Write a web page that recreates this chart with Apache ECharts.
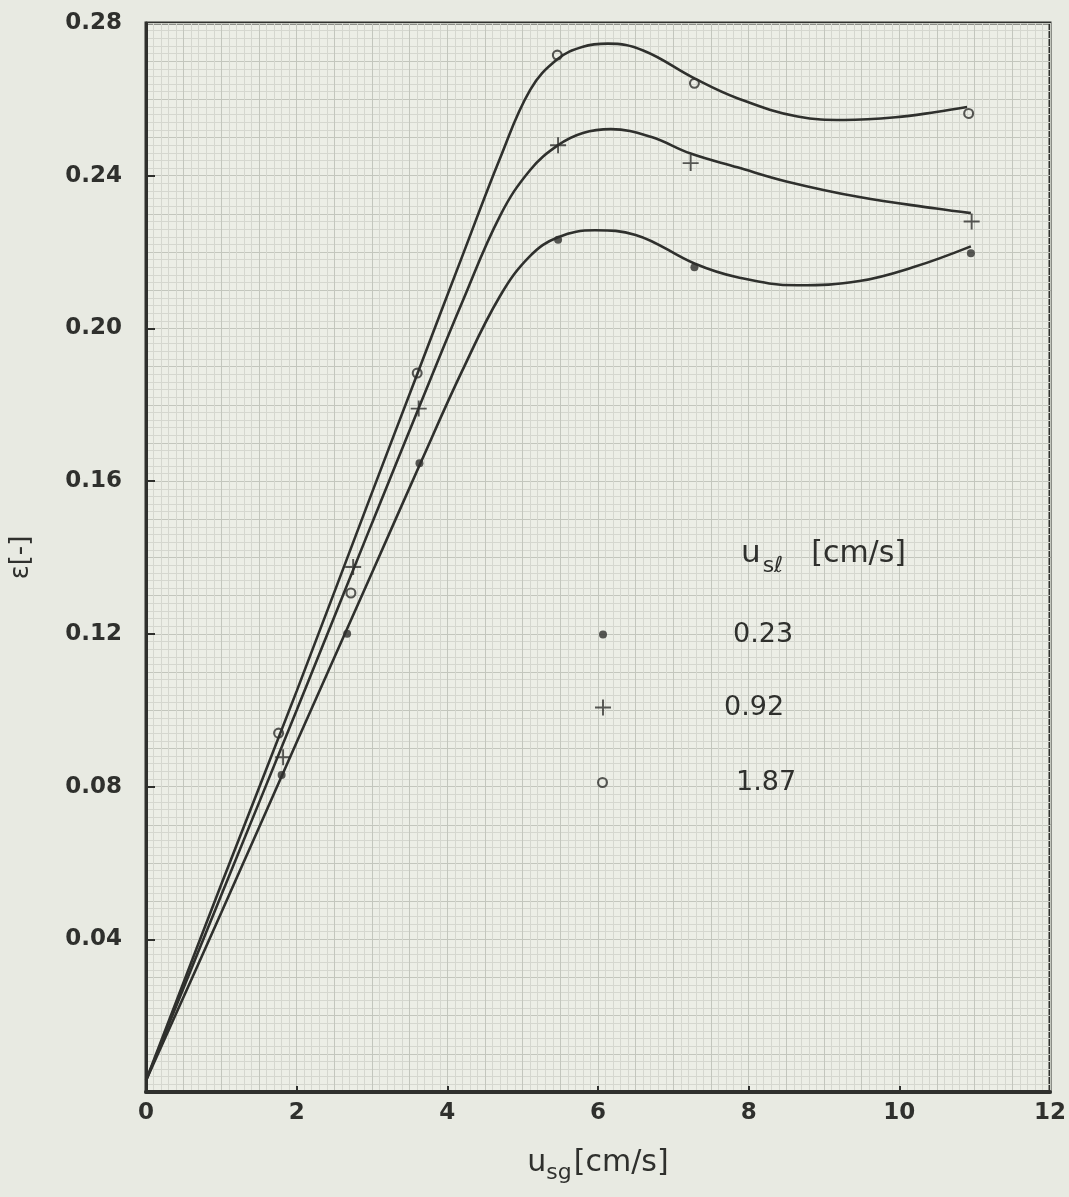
<!DOCTYPE html>
<html>
<head>
<meta charset="utf-8">
<title>holdup vs usg</title>
<script src="https://cdn.jsdelivr.net/npm/echarts@6/dist/echarts.min.js"></script>
<style>
  html, body { margin: 0; padding: 0; background: #e8eae2; }
  #chart { width: 1069px; height: 1197px; }
</style>
</head>
<body>
<div id="chart"></div>
<script>
// measured points, usl = 0.23 / 0.92 / 1.87 cm/s
var usl = ['0.23', '0.92', '1.87'];
var xLow = [1.80, 2.67, 3.63, 5.47, 7.28, 10.95];
var yLow = [0.083, 0.120, 0.1647, 0.2232, 0.216, 0.2197];
var xMid = [1.82, 2.75, 3.62, 5.47, 7.23, 10.96];
var yMid = [0.0877, 0.1375, 0.179, 0.248, 0.2433, 0.228];
var xHigh = [1.76, 2.72, 3.60, 5.46, 7.28, 10.92];
var yHigh = [0.094, 0.1307, 0.1883, 0.2716, 0.2642, 0.2563];

// hand drawn fitted curves
var cxLow = [0, 1, 2, 3, 3.65, 4.2, 4.7, 5.1, 5.47, 5.96, 6.5, 7.28, 7.85, 8.65, 9.47, 10.18, 10.95];
var cyLow = [0.003, 0.047, 0.0916, 0.136, 0.165, 0.189, 0.2085, 0.219, 0.2239, 0.2257, 0.2245, 0.217, 0.2134, 0.2113, 0.2124, 0.216, 0.2215];
var cxMid = [0, 1, 2, 3, 3.7, 4.2, 4.7, 5.1, 5.47, 5.8, 6.17, 6.7, 7.23, 7.85, 8.5, 9.47, 10.49, 10.95];
var cyMid = [0.003, 0.0516, 0.100, 0.149, 0.183, 0.207, 0.2295, 0.2415, 0.248, 0.2512, 0.2522, 0.2502, 0.2458, 0.2422, 0.2385, 0.2344, 0.2314, 0.2302];
var cxHigh = [0, 1, 2, 3, 3.6, 4.2, 4.7, 5.1, 5.46, 5.8, 6.13, 6.6, 7.28, 7.85, 8.65, 9.27, 9.95, 10.49, 10.9];
var cyHigh = [0.003, 0.0544, 0.105, 0.157, 0.188, 0.219, 0.2446, 0.2625, 0.2705, 0.2738, 0.2746, 0.2728, 0.2655, 0.2603, 0.2555, 0.2546, 0.2553, 0.2567, 0.258];

var xTickLabels = [0, 2, 4, 6, 8, 10, 12];
var yTickLabels = [0.04, 0.08, 0.12, 0.16, 0.20, 0.24, 0.28];

var ink = '#2f302d';
var font = 'DejaVu Sans';
var dotPath = 'circle';
var plusPath = 'path://M4.4,0h1.2v4.4h4.4v1.2h-4.4v4.4h-1.2v-4.4h-4.4v-1.2h4.4z';
var ringPath = 'path://M5,0A5,5 0 1,1 4.99,0Z M5,1.9A3.1,3.1 0 1,0 5.01,1.9Z';

function zip(xs, ys) {
  return xs.map(function (x, i) { return [x, ys[i]]; });
}

function legendItem(name, icon, left, top, size, pad) {
  return {
    orient: 'vertical',
    left: left, top: top,
    itemWidth: size, itemHeight: size,
    selectedMode: false,
    textStyle: { fontFamily: font, fontSize: 27, color: ink, padding: [0, 0, 0, pad] },
    data: [{ name: name, icon: icon }]
  };
}

function curve(xs, ys) {
  return {
    type: 'line', smooth: 0.4,
    showSymbol: false, silent: true, z: 3,
    lineStyle: { color: ink, width: 2.6 },
    data: zip(xs, ys)
  };
}

var myChart = echarts.init(document.getElementById('chart'));

var option = {
  backgroundColor: '#e8eae2',
  animation: false,
  grid: {
    left: 145, right: 14, top: 23, bottom: 105,
    show: true,
    borderColor: ink,
    borderWidth: 3,
    backgroundColor: '#eceee6'
  },
  title: {
    text: '{u|u}{s|sℓ}{b|[cm/s]}',
    left: 736, top: 526,
    textStyle: {
      fontWeight: 'normal',
      rich: {
        u: { fontFamily: font, fontSize: 31, color: ink, fontWeight: 'normal' },
        s: { fontFamily: font, fontSize: 22, color: ink, fontWeight: 'normal', padding: [24, 28, 0, 2] },
        b: { fontFamily: font, fontSize: 30, color: ink, fontWeight: 'normal' }
      }
    }
  },
  legend: [
    legendItem(usl[0], dotPath, 594, 616, 8, 121),
    legendItem(usl[1], plusPath, 590, 689, 16, 108),
    legendItem(usl[2], ringPath, 592, 764, 11, 123)
  ],
  xAxis: [{
    type: 'value', min: 0, max: 12, interval: 1,
    name: '{u|u}{s|sg}{b|[cm/s]}',
    nameLocation: 'middle', nameGap: 50,
    nameTextStyle: {
      rich: {
        u: { fontFamily: font, fontSize: 30, color: ink },
        s: { fontFamily: font, fontSize: 22, color: ink, padding: [20, 2, 0, 0] },
        b: { fontFamily: font, fontSize: 30, color: ink }
      }
    },
    axisLine: { lineStyle: { color: ink, width: 4 } },
    axisTick: { inside: true, length: 6, lineStyle: { color: ink, width: 2 }, customValues: [2, 4, 6, 8, 10] },
    axisLabel: {
      customValues: xTickLabels,
      margin: 10,
      fontFamily: font, fontSize: 23, color: ink, fontWeight: 'bold'
    },
    splitLine: { lineStyle: { color: '#aeb1a8', width: 1 } },
    minorTick: { show: false, splitNumber: 10 },
    minorSplitLine: { show: true, lineStyle: { color: '#d5d7cf', width: 1 } }
  }, {
    type: 'value', min: 0, max: 12, interval: 0.5, show: true,
    position: 'bottom',
    axisLine: { show: false }, axisTick: { show: false }, axisLabel: { show: false },
    splitLine: { lineStyle: { color: '#c3c6bd', width: 1 } }
  }],
  yAxis: [{
    type: 'value', min: 0, max: 0.28, interval: 0.02,
    name: 'ε[-]',
    nameLocation: 'middle', nameGap: 112, nameRotate: 90,
    nameTextStyle: { fontFamily: font, fontSize: 26, color: ink },
    axisLine: { lineStyle: { color: ink, width: 3 } },
    axisTick: { inside: true, length: 9, lineStyle: { color: ink, width: 2 }, customValues: [0.04, 0.08, 0.12, 0.16, 0.20, 0.24] },
    axisLabel: {
      customValues: yTickLabels,
      margin: 24,
      fontFamily: font, fontSize: 23, color: ink, fontWeight: 'bold',
      formatter: function (v) { return v.toFixed(2); }
    },
    splitLine: { lineStyle: { color: '#aeb1a8', width: 1 } },
    minorTick: { show: false, splitNumber: 10 },
    minorSplitLine: { show: true, lineStyle: { color: '#d5d7cf', width: 1 } }
  }, {
    type: 'value', min: 0, max: 0.28, interval: 0.01, show: true,
    position: 'left',
    axisLine: { show: false }, axisTick: { show: false }, axisLabel: { show: false },
    splitLine: { lineStyle: { color: '#c3c6bd', width: 1 } }
  }],
  series: [
    curve(cxLow, cyLow),
    curve(cxMid, cyMid),
    curve(cxHigh, cyHigh),
    { name: usl[0], type: 'scatter', symbol: dotPath, symbolSize: 8, itemStyle: { color: ink }, data: zip(xLow, yLow), z: 4 },
    { name: usl[1], type: 'scatter', symbol: plusPath, symbolSize: 16, itemStyle: { color: ink }, data: zip(xMid, yMid), z: 4 },
    { name: usl[2], type: 'scatter', symbol: ringPath, symbolSize: 11, itemStyle: { color: ink }, data: zip(xHigh, yHigh), z: 4 }
  ]
};

myChart.clear();
myChart.setOption(option);
</script>
</body>
</html>
